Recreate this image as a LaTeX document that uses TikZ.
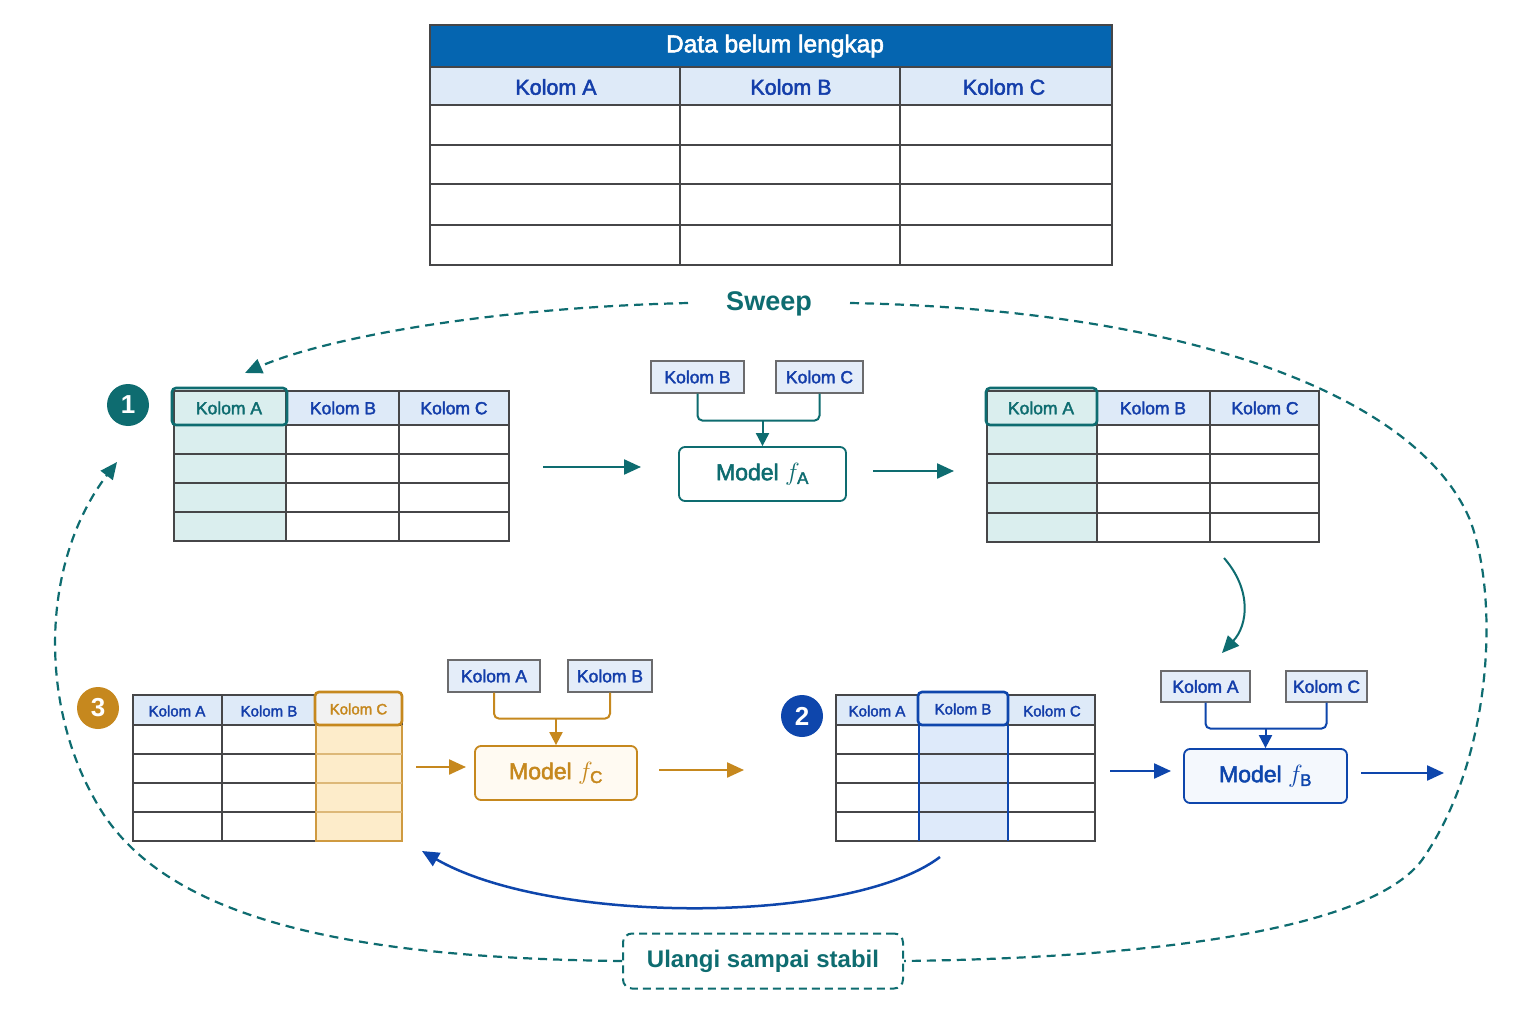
\documentclass[tikz,border=0pt]{standalone}
\usepackage{fontspec}
\setmainfont{Liberation Sans}
\newfontfamily\medsans{Liberation Sans}[FakeBold=2.2]
\usetikzlibrary{arrows.meta}
\definecolor{tealc}{RGB}{14,108,112}
\definecolor{tealfill}{RGB}{218,238,238}
\definecolor{hdrdark}{RGB}{5,101,176}
\definecolor{txtblue}{RGB}{20,62,170}
\definecolor{hdrfill}{RGB}{222,234,248}
\definecolor{bluec}{RGB}{14,70,172}
\definecolor{bluefill}{RGB}{222,234,250}
\definecolor{orangec}{RGB}{198,136,30}
\definecolor{orangefill}{RGB}{253,236,202}
\definecolor{gridc}{RGB}{70,70,72}
\definecolor{inboxfill}{RGB}{228,237,249}
\newcommand\fz[1]{\fontsize{#1}{#1}\selectfont}
\newcommand\fsub[2]{$f_{\hbox{\medsans\fz{#2}#1}}$}
\begin{document}
\begin{tikzpicture}[x=1pt,y=-1pt,
  grid/.style={draw=gridc, line width=1.3pt},
  hdr/.style={text=txtblue, font=\medsans\fz{17.5}, inner sep=0pt},
  inbox/.style={draw=gridc!80, fill=inboxfill, text=txtblue, line width=1.2pt, font=\medsans\fz{17.5}, minimum height=32, inner sep=0pt},
  modelbox/.style={rounded corners=6pt, line width=1.8pt, minimum height=54, inner sep=0pt, font=\medsans\fz{23}},
  conn/.style={line width=2pt, rounded corners=5pt},
  tip/.style={-{Triangle[length=17pt,width=15pt]}},
  smalltip/.style={-{Triangle[length=13pt,width=13pt]}},
  flow/.style={line width=2.3pt, tip},
  loopline/.style={draw=tealc, line width=2.2pt, dash pattern=on 9pt off 6pt},
  badge/.style={circle, minimum size=42, inner sep=0pt, text=white, font=\fz{26}\bfseries},
  hl/.style={line width=2.6pt, rounded corners=4pt}
]
\useasboundingbox[fill=white] (0,0) rectangle (1536,1024);

% ---------- top table ----------
\fill[hdrdark] (430,25) rectangle (1112,67);
\fill[hdrfill] (430,67) rectangle (1112,105);
\foreach \y in {67,105,145,184,225} \draw[grid,line width=1.5pt] (430,\y) -- (1112,\y);
\foreach \x in {680,900} \draw[grid,line width=1.5pt] (\x,67) -- (\x,265);
\draw[grid,line width=1.5pt] (430,25) rectangle (1112,265);
\node[text=white, font=\medsans\fz{24.5}] (ttl) at (775,46) {Data belum lengkap};
\node[hdr, font=\medsans\fz{21.5}] (tta) at (556,87) {Kolom A};
\node[hdr, font=\medsans\fz{21.5}] (ttb) at (791,87) {Kolom B};
\node[hdr, font=\medsans\fz{21.5}] (ttc) at (1004,87) {Kolom C};

% ---------- Sweep + loop ----------
\node[text=tealc, font=\fz{27}\bfseries] (sweep) at (769,304) {Sweep};
\node[draw=tealc, line width=2pt, dash pattern=on 8pt off 5pt, rounded corners=9pt,
      minimum width=280, minimum height=55, text=tealc, font=\fz{24}\bfseries] (ulang) at (763,961) {Ulangi sampai stabil};
\coordinate (swL) at (688,303);
\coordinate (swR) at (850,303);
\coordinate (lpA) at (245,373);
\coordinate (lpB) at (117,462);
\draw[loopline, tip] (swL) .. controls (480,308) and (320,340) .. (lpA);
\draw[loopline] (swR) .. controls (1200,310) and (1420,400) .. (1470,520)
   .. controls (1500,600) and (1492,760) .. (1422,860)
   .. controls (1370,930) and (1150,958) .. (ulang.east);
\draw[loopline, tip] (ulang.west) .. controls (350,958) and (160,920) .. (95,800)
   .. controls (38,700) and (42,560) .. (lpB);

% ---------- step 1: table ----------
\node[badge, fill=tealc] (b1) at (128,405) {1};
\fill[hdrfill] (174,391) rectangle (509,425);
\fill[tealfill] (174,391) rectangle (286,541);
\foreach \y in {425,454,483,512} \draw[grid] (174,\y) -- (509,\y);
\foreach \x in {286,399} \draw[grid] (\x,391) -- (\x,541);
\draw[grid] (174,391) rectangle (509,541);
\draw[hl, draw=tealc] (172,388) rectangle (287,425);
\node[hdr, text=tealc] (t1a) at (229,408) {Kolom A};
\node[hdr] (t1b) at (343,408) {Kolom B};
\node[hdr] (t1c) at (454,408) {Kolom C};

% model fA
\node[inbox, minimum width=93] (iAb) at (697.5,377) {Kolom B};
\node[inbox, minimum width=87] (iAc) at (819.5,377) {Kolom C};
\node[modelbox, draw=tealc, fill=white, text=tealc, minimum width=167] (mA) at (762.5,474) {Model~\fsub{A}{17}};
\draw[conn, draw=tealc] (iAb.south) -- ++(0,27) -| (iAc.south);
\draw[conn, draw=tealc, smalltip] (mA.north |- 0,420) -- (mA.north);
\coordinate (a1s) at (543,467); \coordinate (a1e) at (641,467);
\coordinate (a2s) at (873,471); \coordinate (a2e) at (954,471);
\draw[flow, draw=tealc] (a1s) -- (a1e);
\draw[flow, draw=tealc] (a2s) -- (a2e);

% table 1'
\fill[hdrfill] (987,391) rectangle (1319,425);
\fill[tealfill] (987,391) rectangle (1097,542);
\foreach \y in {425,454,483,513} \draw[grid] (987,\y) -- (1319,\y);
\foreach \x in {1097,1210} \draw[grid] (\x,391) -- (\x,542);
\draw[grid] (987,391) rectangle (1319,542);
\draw[hl, draw=tealc] (986,388) rectangle (1097,425);
\node[hdr, text=tealc] (t1pa) at (1041,408) {Kolom A};
\node[hdr] (t1pb) at (1153,408) {Kolom B};
\node[hdr] (t1pc) at (1265,408) {Kolom C};

\coordinate (c1s) at (1224,558); \coordinate (c1e) at (1222,653);
\draw[flow, draw=tealc, line width=2pt, tip] (c1s) .. controls (1252,590) and (1248,625) .. (c1e);

% ---------- step 2 ----------
\node[badge, fill=bluec] (b2) at (802,716) {2};
\fill[hdrfill] (836,695) rectangle (1095,725);
\fill[bluefill] (919,695) rectangle (1008,841);
\foreach \y in {725,754,783,812} \draw[grid] (836,\y) -- (1095,\y);
\foreach \x in {919,1008} \draw[grid] (\x,695) -- (\x,841);
\draw[grid] (836,695) rectangle (1095,841);
\draw[bluec, line width=1.3pt] (919,725) -- (919,841) (1008,725) -- (1008,841);
\draw[hl, draw=bluec, fill=hdrfill] (918,692) rectangle (1008,725);
\node[hdr, font=\medsans\fz{15}] (t2a) at (877,711) {Kolom A};
\node[hdr, font=\medsans\fz{15}] (t2b) at (963,709) {Kolom B};
\node[hdr, font=\medsans\fz{15}] (t2c) at (1052,711) {Kolom C};

\node[inbox, minimum width=89, minimum height=31] (iBa) at (1205.5,686.5) {Kolom A};
\node[inbox, minimum width=81, minimum height=31] (iBc) at (1326.5,686.5) {Kolom C};
\node[modelbox, draw=bluec, fill=inboxfill!40, text=bluec, minimum width=163] (mB) at (1265.5,776) {Model~\fsub{B}{17}};
\draw[conn, draw=bluec] (iBa.south) -- ++(0,26) -| (iBc.south);
\draw[conn, draw=bluec, smalltip] (mB.north |- 0,728) -- (mB.north);
\coordinate (b1s) at (1110,771); \coordinate (b1e) at (1171,771);
\coordinate (b2s) at (1361,773); \coordinate (b2e) at (1444,773);
\draw[flow, draw=bluec] (b1s) -- (b1e);
\draw[flow, draw=bluec] (b2s) -- (b2e);

\coordinate (c2s) at (940,857); \coordinate (c2e) at (422,851);
\draw[flow, draw=bluec, line width=2.5pt] (c2s) .. controls (850,925) and (550,925) .. (c2e);

% ---------- step 3 ----------
\node[badge, fill=orangec] (b3) at (98,708) {3};
\fill[hdrfill] (133,695) rectangle (402,725);
\fill[orangefill] (316,695) rectangle (402,841);
\foreach \y in {725,754,783,812} \draw[grid] (133,\y) -- (402,\y);
\foreach \x in {222,316} \draw[grid] (\x,695) -- (\x,841);
\draw[grid] (133,695) rectangle (402,841);
\draw[orangec!85, line width=1.3pt] (316,725) -- (316,841) -- (402,841) -- (402,725);
\foreach \y in {754,783,812} \draw[orangec!60, line width=1.3pt] (316,\y) -- (402,\y);
\draw[hl, draw=orangec, fill=black!5] (315,692) rectangle (402,725);
\node[hdr, font=\medsans\fz{15}] (t3a) at (177,711) {Kolom A};
\node[hdr, font=\medsans\fz{15}] (t3b) at (269,711) {Kolom B};
\node[hdr, font=\medsans\fz{15}, text=orangec] (t3c) at (358.5,709) {Kolom C};

\node[inbox, minimum width=92] (iCa) at (494,676) {Kolom A};
\node[inbox, minimum width=84] (iCb) at (610,676) {Kolom B};
\node[modelbox, draw=orangec, fill=orangefill!25, text=orangec, minimum width=162] (mC) at (556,773) {Model~\fsub{C}{17}};
\draw[conn, draw=orangec] (iCa.south) -- ++(0,26) -| (iCb.south);
\draw[conn, draw=orangec, smalltip] (mC.north |- 0,718) -- (mC.north);
\coordinate (d1s) at (416,767); \coordinate (d1e) at (466,767);
\coordinate (d2s) at (659,770); \coordinate (d2e) at (744,770);
\draw[flow, draw=orangec] (d1s) -- (d1e);
\draw[flow, draw=orangec] (d2s) -- (d2e);
\end{tikzpicture}
\end{document}
